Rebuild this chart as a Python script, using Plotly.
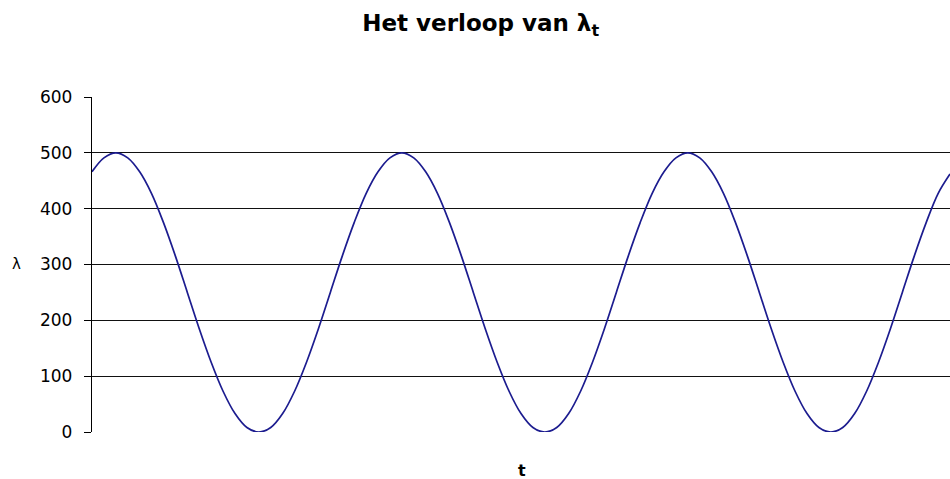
import plotly.graph_objects as go

# time steps (24 per period, three periods)
t = list(range(73))
# lambda values
lam = [
    466, 491, 500, 491, 466, 427, 375, 315, 250, 185, 125, 73,
    33, 8, 0, 8, 33, 73, 125, 185, 250, 315, 375, 427,
    466, 491, 500, 491, 466, 427, 375, 315, 250, 185, 125, 73,
    33, 8, 0, 8, 33, 73, 125, 185, 250, 315, 375, 427,
    466, 491, 500, 491, 466, 427, 375, 315, 250, 185, 125, 73,
    33, 8, 0, 8, 33, 73, 125, 185, 250, 315, 375, 427,
    462,
]
y_ticks = [0, 100, 200, 300, 400, 500, 600]

fig = go.Figure()
fig.add_trace(go.Scatter(
    x=t, y=lam, mode="lines",
    line=dict(color="#1c1c8f", width=1.7, shape="spline"),
    showlegend=False, hoverinfo="skip",
))

font_family = "DejaVu Sans, Arial, sans-serif"
fig.update_layout(
    width=950, height=479, autosize=False,
    margin=dict(l=92, r=0, t=97, b=47),
    paper_bgcolor="white", plot_bgcolor="white",
    title=dict(text="<b>Het verloop van λ<sub>t</sub></b>", x=0.506, xanchor="center",
               y=0.952, yanchor="middle",
               font=dict(family=font_family, size=23, color="black")),
    xaxis=dict(range=[0, 72], showgrid=False, showticklabels=False, ticks="",
               zeroline=False, showline=False, fixedrange=True),
    yaxis=dict(range=[0, 600], tickvals=y_ticks, ticks="outside", ticklen=7,
               tickcolor="black", tickwidth=1,
               showgrid=True, gridcolor="#111111", gridwidth=1.3,
               showline=True, linecolor="black", linewidth=1.3,
               zeroline=False, fixedrange=True,
               tickfont=dict(family=font_family, size=17, color="black"),
               ticklabelstandoff=8),
    font=dict(family=font_family, color="black"),
)
fig.add_annotation(text="λ", xref="paper", yref="paper", x=-0.088, y=0.502,
                   xanchor="center", yanchor="middle", showarrow=False,
                   font=dict(family=font_family, size=15, color="black"))
fig.add_annotation(text="<b>t</b>", xref="paper", yref="paper", x=0.501, y=-0.115,
                   xanchor="center", yanchor="middle", showarrow=False,
                   font=dict(family=font_family, size=16, color="black"))

post = ("document.body.style.margin='0';document.body.style.padding='0';"
        "var gd=document.getElementById('{plot_id}');"
        "Plotly.relayout(gd,{width:950,height:479});")
fig.write_html("out.html", post_script=post, config={"displayModeBar": False})
